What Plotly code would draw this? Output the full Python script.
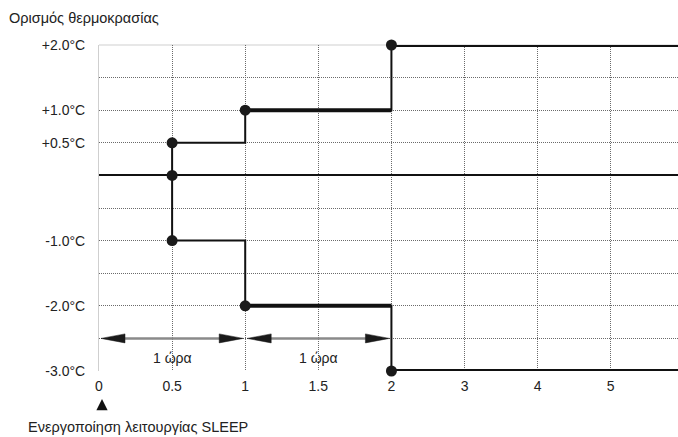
import numpy as np
import plotly.graph_objects as go

# ---------------- data ----------------
x_tick_hours = [0, 0.5, 1, 1.5, 2, 3, 4, 5]
x_tick_labels = ["0", "0.5", "1", "1.5", "2", "3", "4", "5"]
y_grid_vals = [2.0, 1.5, 1.0, 0.5, 0.0, -0.5, -1.0, -1.5, -2.0, -2.5, -3.0]
y_tick_labels = ["+2.0°C", "", "+1.0°C", "+0.5°C", "", "", "-1.0°C", "", "-2.0°C", "", "-3.0°C"]
end_hour = 5.92

# upper (heating) step path: hours, offset
upper_h = [0.5, 0.5, 1.0, 1.0, 2.0, 2.0, end_hour]
upper_t = [0.0, 0.5, 0.5, 1.0, 1.0, 2.0, 2.0]
# lower (cooling) step path
lower_h = [0.5, 0.5, 1.0, 1.0, 2.0, 2.0, end_hour]
lower_t = [0.0, -1.0, -1.0, -2.0, -2.0, -3.0, -3.0]
# thick held segments (index pairs into paths)
thick_segments = [(3, 4), (5, 6)]
# marked points
point_h = [0.5, 0.5, 0.5, 1.0, 1.0, 2.0, 2.0]
point_t = [0.5, 0.0, -1.0, 1.0, -2.0, 2.0, -3.0]
# one-hour spans
span_start = [0.0, 1.0]
span_end = [1.0, 2.0]
span_level = -2.5
span_label = "1 ώρα"


def pos(h):
    h = np.asarray(h, dtype=float)
    return np.where(h <= 2, 2 * h, h + 2)


FONT = "Liberation Sans, Arial, sans-serif"
TXT = "#222222"
FS = 14
W, H = 678, 437
ML, MR, MT, MB = 99, 0, 45, 66
x_range = [0, float(pos(end_hour))]
y_range = [-3.0, 2.0]
PH = H - MT - MB
px_per_x = (W - ML - MR) / (x_range[1] - x_range[0])
px_per_y = PH / (y_range[1] - y_range[0])

fig = go.Figure()

# thin full paths
for hh, tt in [(upper_h, upper_t), (lower_h, lower_t)]:
    fig.add_trace(go.Scatter(x=pos(hh), y=tt, mode="lines",
                             line=dict(color="#111111", width=2),
                             cliponaxis=False, hoverinfo="skip", showlegend=False))
    for a, b in thick_segments:
        fig.add_trace(go.Scatter(x=pos([hh[a], hh[b]]), y=[tt[a], tt[b]], mode="lines",
                                 line=dict(color="#111111", width=4),
                                 cliponaxis=False, hoverinfo="skip", showlegend=False))

# markers
fig.add_trace(go.Scatter(x=pos(point_h), y=point_t, mode="markers",
                         marker=dict(color="#1a1a1a", size=11, line=dict(width=0)),
                         cliponaxis=False, hoverinfo="skip", showlegend=False))

# span arrows
head_len = 24 / px_per_x
head_half = 4.5 / px_per_y
inset = 2 / px_per_x
for s, e in zip(span_start, span_end):
    x0 = float(pos(s)) + inset
    x1 = float(pos(e)) - inset
    fig.add_trace(go.Scatter(x=[x0 + head_len * 0.6, x1 - head_len * 0.6], y=[span_level, span_level],
                             mode="lines", line=dict(color="#8a8a8a", width=2.5),
                             hoverinfo="skip", showlegend=False))
    fig.add_trace(go.Scatter(x=[x0, x0 + head_len, x0 + head_len, x0],
                             y=[span_level, span_level + head_half, span_level - head_half, span_level],
                             mode="lines", fill="toself", fillcolor="#1a1a1a",
                             line=dict(color="#1a1a1a", width=0.5),
                             hoverinfo="skip", showlegend=False))
    fig.add_trace(go.Scatter(x=[x1, x1 - head_len, x1 - head_len, x1],
                             y=[span_level, span_level + head_half, span_level - head_half, span_level],
                             mode="lines", fill="toself", fillcolor="#1a1a1a",
                             line=dict(color="#1a1a1a", width=0.5),
                             hoverinfo="skip", showlegend=False))
    fig.add_annotation(x=float(pos((s + e) / 2)), y=span_level, yshift=-20,
                       text=span_label, showarrow=False,
                       font=dict(family=FONT, size=FS, color=TXT))

# top border line
fig.add_shape(type="line", xref="paper", yref="paper", x0=0, x1=1, y0=1, y1=1,
              line=dict(color="#cfcfcf", width=1), layer="below")

# title & bottom note
fig.add_annotation(xref="paper", yref="paper", x=0, y=1, xanchor="left", yanchor="middle",
                   xshift=-92, yshift=27, text="Ορισμός θερμοκρασίας", showarrow=False,
                   font=dict(family=FONT, size=14.5, color=TXT))
fig.add_annotation(xref="x", yref="paper", x=0, y=-28 / PH,
                   ax=0, ay=12, xshift=3, text="", showarrow=True,
                   arrowhead=2, arrowsize=1.5, arrowwidth=1.5, arrowcolor="#111111", standoff=0)
fig.add_annotation(xref="paper", yref="paper", x=0, y=0, xanchor="left", yanchor="middle",
                   xshift=-73, yshift=-56, text="Ενεργοποίηση λειτουργίας SLEEP", showarrow=False,
                   font=dict(family=FONT, size=14.5, color=TXT))

fig.update_layout(
    width=W, height=H,
    margin=dict(l=ML, r=MR, t=MT, b=MB, autoexpand=False),
    paper_bgcolor="white", plot_bgcolor="white",
    font=dict(family=FONT, size=FS, color=TXT),
    xaxis=dict(range=x_range, tickmode="array", tickvals=pos(x_tick_hours).tolist(),
               ticktext=x_tick_labels, showgrid=True, gridcolor="#6a6a6a",
               griddash="1px,1px", gridwidth=1, zeroline=False, showline=False,
               ticks="", ticklabelstandoff=5, fixedrange=True, automargin=False),
    yaxis=dict(range=y_range, tickmode="array", tickvals=y_grid_vals, ticktext=y_tick_labels,
               showgrid=True, gridcolor="#6a6a6a", griddash="1px,1px", gridwidth=1,
               zeroline=True, zerolinecolor="#111111", zerolinewidth=1.5,
               showline=True, linecolor="#cfcfcf", linewidth=1,
               ticks="", ticklabelstandoff=10, fixedrange=True, automargin=False),
)

fig.write_html("out.html", config={"displayModeBar": False},
               post_script="document.body.style.margin='0px';document.body.style.overflow='hidden';")
